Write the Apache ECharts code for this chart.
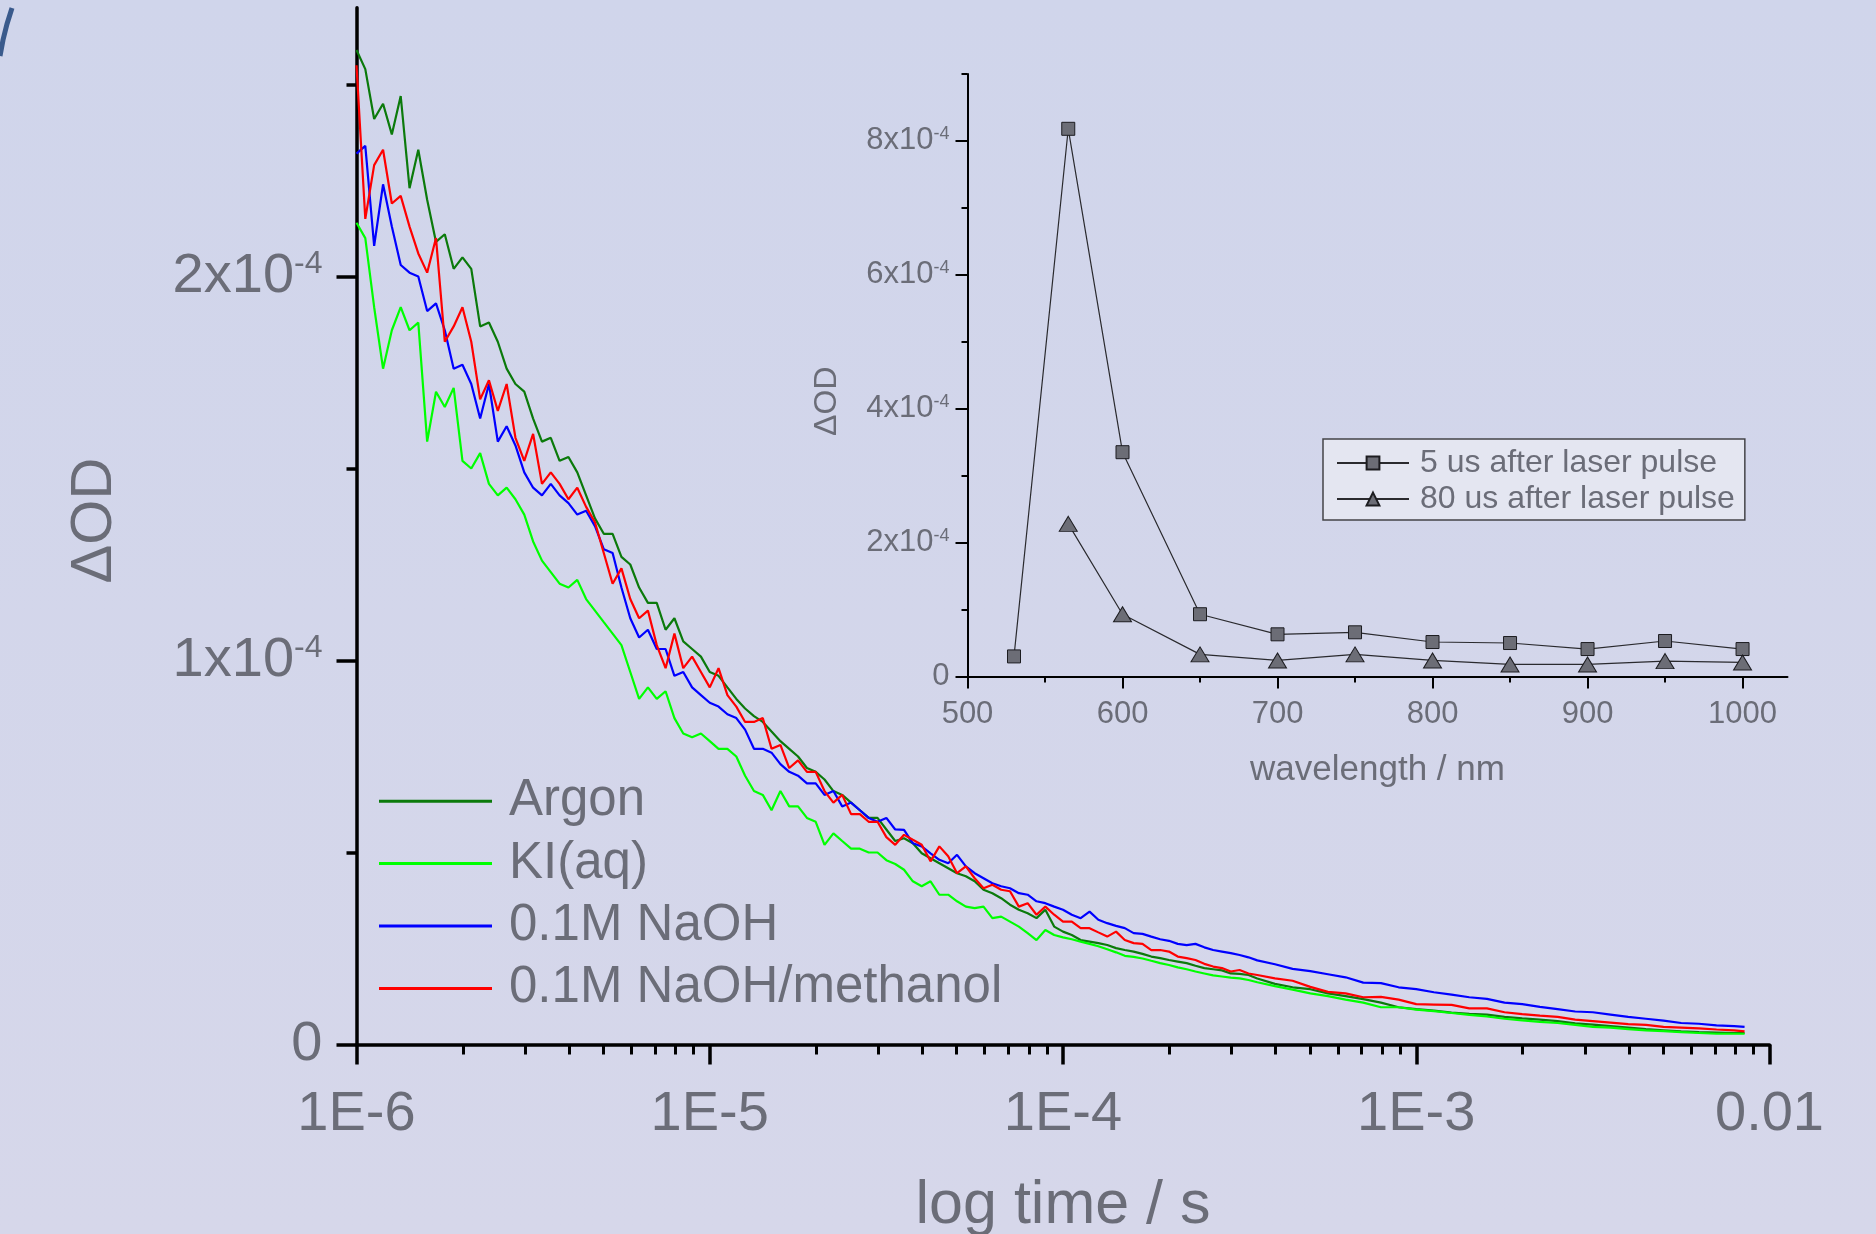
<!DOCTYPE html>
<html>
<head>
<meta charset="utf-8">
<script src="https://cdn.jsdelivr.net/npm/echarts@6/dist/echarts.min.js"></script>
<style>
  html, body { margin: 0; padding: 0; background: #d3d6ea; }
  #chart { width: 1876px; height: 1234px; }
</style>
</head>
<body>
<div id="chart"></div>
<script>
// Transient absorption decays: time (s) and ΔOD in units of 1e-4
const timeS = [
  1.000e-6, 1.059e-6, 1.122e-6, 1.189e-6, 1.259e-6, 1.334e-6, 1.413e-6, 1.496e-6, 1.585e-6, 1.679e-6,
  1.778e-6, 1.884e-6, 1.995e-6, 2.113e-6, 2.239e-6, 2.371e-6, 2.512e-6, 2.661e-6, 2.818e-6, 2.985e-6,
  3.162e-6, 3.350e-6, 3.548e-6, 3.758e-6, 3.981e-6, 4.217e-6, 4.467e-6, 4.732e-6, 5.012e-6, 5.309e-6,
  5.623e-6, 5.957e-6, 6.310e-6, 6.683e-6, 7.079e-6, 7.499e-6, 7.943e-6, 8.414e-6, 8.913e-6, 9.441e-6,
  1.000e-5, 1.059e-5, 1.122e-5, 1.189e-5, 1.259e-5, 1.334e-5, 1.413e-5, 1.496e-5, 1.585e-5, 1.679e-5,
  1.778e-5, 1.884e-5, 1.995e-5, 2.113e-5, 2.239e-5, 2.371e-5, 2.512e-5, 2.661e-5, 2.818e-5, 2.985e-5,
  3.162e-5, 3.350e-5, 3.548e-5, 3.758e-5, 3.981e-5, 4.217e-5, 4.467e-5, 4.732e-5, 5.012e-5, 5.309e-5,
  5.623e-5, 5.957e-5, 6.310e-5, 6.683e-5, 7.079e-5, 7.499e-5, 7.943e-5, 8.414e-5, 8.913e-5, 9.441e-5,
  1.000e-4, 1.059e-4, 1.122e-4, 1.189e-4, 1.259e-4, 1.334e-4, 1.413e-4, 1.496e-4, 1.585e-4, 1.679e-4,
  1.778e-4, 1.884e-4, 1.995e-4, 2.113e-4, 2.239e-4, 2.371e-4, 2.512e-4, 2.661e-4, 2.818e-4, 2.985e-4,
  3.162e-4, 3.350e-4, 3.548e-4,
  3.981e-4, 4.467e-4, 5.012e-4, 5.623e-4, 6.310e-4, 7.079e-4, 7.943e-4, 8.913e-4,
  1.000e-3, 1.122e-3, 1.259e-3, 1.413e-3, 1.585e-3, 1.778e-3, 1.995e-3, 2.239e-3, 2.512e-3, 2.818e-3,
  3.162e-3, 3.548e-3, 3.981e-3, 4.467e-3, 5.012e-3, 5.623e-3, 6.310e-3, 7.079e-3, 7.943e-3,
  8.500e-3
];

const argon = [
  2.59, 2.54, 2.41, 2.45, 2.37, 2.47, 2.23, 2.33, 2.20, 2.09,
  2.11, 2.02, 2.05, 2.02, 1.87, 1.88, 1.83, 1.76, 1.72, 1.70,
  1.63, 1.57, 1.58, 1.52, 1.53, 1.49, 1.43, 1.37, 1.33, 1.33,
  1.27, 1.25, 1.19, 1.15, 1.15, 1.08, 1.11, 1.05, 1.03, 1.01,
  0.97, 0.96, 0.93, 0.90, 0.875, 0.855, 0.84, 0.815, 0.79, 0.77,
  0.75, 0.72, 0.71, 0.69, 0.66, 0.65, 0.63, 0.61, 0.59, 0.59,
  0.56, 0.53, 0.537, 0.524, 0.498, 0.485, 0.472, 0.459, 0.446, 0.438,
  0.425, 0.403, 0.394, 0.381, 0.364, 0.351, 0.342, 0.329, 0.351, 0.307,
  0.294, 0.285, 0.272, 0.268, 0.264, 0.259, 0.251, 0.246, 0.242, 0.236,
  0.229, 0.225, 0.220, 0.216, 0.212, 0.205, 0.199, 0.196, 0.193, 0.185,
  0.184, 0.181, 0.172,
  0.158, 0.149, 0.144, 0.133, 0.126, 0.118, 0.109, 0.097,
  0.092, 0.088, 0.083, 0.080, 0.078, 0.072, 0.068, 0.065, 0.061, 0.055,
  0.052, 0.048, 0.044, 0.040, 0.037, 0.034, 0.032, 0.031, 0.030,
  0.030
];

const kiAq = [
  2.14, 2.10, 1.92, 1.76, 1.86, 1.92, 1.86, 1.88, 1.57, 1.70,
  1.66, 1.71, 1.52, 1.50, 1.54, 1.46, 1.43, 1.45, 1.42, 1.38,
  1.31, 1.26, 1.23, 1.20, 1.19, 1.21, 1.16, 1.13, 1.10, 1.07,
  1.04, 0.97, 0.90, 0.93, 0.90, 0.92, 0.85, 0.81, 0.80, 0.81,
  0.79, 0.77, 0.77, 0.75, 0.70, 0.66, 0.65, 0.61, 0.66, 0.62,
  0.62, 0.59, 0.58, 0.52, 0.55, 0.53, 0.51, 0.51, 0.50, 0.50,
  0.48, 0.47, 0.455, 0.425, 0.412, 0.425, 0.390, 0.390, 0.373, 0.359,
  0.355, 0.359, 0.329, 0.333, 0.320, 0.307, 0.290, 0.272, 0.298, 0.285,
  0.279, 0.274, 0.268, 0.262, 0.256, 0.248, 0.240, 0.231, 0.228, 0.224,
  0.218, 0.212, 0.207, 0.201, 0.196, 0.190, 0.185, 0.180, 0.177, 0.174,
  0.172, 0.168, 0.162,
  0.152, 0.143, 0.133, 0.126, 0.117, 0.109, 0.097, 0.097,
  0.091, 0.087, 0.082, 0.077, 0.073, 0.067, 0.063, 0.059, 0.056, 0.051,
  0.046, 0.044, 0.040, 0.037, 0.035, 0.032, 0.030, 0.028, 0.028,
  0.028
];

const naoh = [
  2.32, 2.34, 2.08, 2.24, 2.13, 2.03, 2.01, 2.00, 1.91, 1.93,
  1.86, 1.76, 1.77, 1.72, 1.63, 1.72, 1.57, 1.61, 1.56, 1.49,
  1.45, 1.43, 1.46, 1.43, 1.41, 1.38, 1.39, 1.35, 1.29, 1.28,
  1.19, 1.11, 1.06, 1.08, 1.03, 1.03, 0.96, 0.97, 0.93, 0.91,
  0.89, 0.88, 0.86, 0.85, 0.82, 0.77, 0.77, 0.76, 0.73, 0.71,
  0.70, 0.68, 0.68, 0.65, 0.66, 0.62, 0.63, 0.61, 0.59, 0.58,
  0.59, 0.56, 0.559, 0.524, 0.516, 0.498, 0.481, 0.472, 0.494, 0.464,
  0.446, 0.433, 0.420, 0.412, 0.407, 0.394, 0.390, 0.373, 0.368, 0.359,
  0.351, 0.338, 0.329, 0.346, 0.325, 0.316, 0.309, 0.303, 0.290, 0.288,
  0.281, 0.274, 0.270, 0.262, 0.259, 0.262, 0.253, 0.246, 0.242, 0.238,
  0.233, 0.227, 0.219,
  0.209, 0.197, 0.191, 0.183, 0.175, 0.161, 0.160, 0.149,
  0.144, 0.136, 0.130, 0.123, 0.119, 0.109, 0.105, 0.098, 0.092, 0.086,
  0.084, 0.078, 0.072, 0.067, 0.062, 0.056, 0.054, 0.050, 0.048,
  0.046
];

const naohMethanol = [
  2.55, 2.15, 2.29, 2.33, 2.19, 2.21, 2.13, 2.06, 2.01, 2.10,
  1.83, 1.87, 1.92, 1.83, 1.68, 1.73, 1.65, 1.72, 1.58, 1.52,
  1.59, 1.46, 1.49, 1.46, 1.42, 1.45, 1.40, 1.36, 1.28, 1.20,
  1.24, 1.16, 1.11, 1.13, 1.04, 0.98, 1.07, 0.98, 1.01, 0.97,
  0.93, 0.98, 0.91, 0.88, 0.84, 0.84, 0.85, 0.77, 0.78, 0.72,
  0.74, 0.71, 0.71, 0.66, 0.63, 0.65, 0.60, 0.60, 0.58, 0.58,
  0.54, 0.52, 0.546, 0.533, 0.520, 0.477, 0.516, 0.490, 0.446, 0.464,
  0.433, 0.407, 0.416, 0.403, 0.399, 0.359, 0.368, 0.338, 0.359, 0.338,
  0.320, 0.320, 0.303, 0.303, 0.292, 0.281, 0.294, 0.272, 0.264, 0.262,
  0.246, 0.246, 0.242, 0.229, 0.225, 0.220, 0.210, 0.203, 0.199, 0.190,
  0.194, 0.185, 0.181,
  0.172, 0.166, 0.150, 0.137, 0.133, 0.123, 0.124, 0.117,
  0.105, 0.104, 0.103, 0.094, 0.094, 0.084, 0.079, 0.075, 0.072, 0.065,
  0.061, 0.057, 0.053, 0.051, 0.046, 0.044, 0.042, 0.039, 0.037,
  0.034
];

const decaySeriesNames = ['Argon', 'KI(aq)', '0.1M NaOH', '0.1M NaOH/methanol'];
const decayColors = ['#0b7a0b', '#00ff00', '#0000ff', '#ff0000'];

// Time axis tick labels (one per decade)
const decadeTicks = [1e-6, 1e-5, 1e-4, 1e-3, 1e-2];
const decadeLabels = ['1E-6', '1E-5', '1E-4', '1E-3', '0.01'];
const odMajorTicks = [0, 1, 2];
const odMinorTicks = [0.5, 1.5, 2.5];

// Inset: transient spectra, ΔOD in units of 1e-4
const wavelength5us = [530, 565, 600, 650, 700, 750, 800, 850, 900, 950, 1000];
const od5us = [0.30, 8.18, 3.35, 0.93, 0.63, 0.66, 0.515, 0.50, 0.41, 0.53, 0.41];
const wavelength80us = [565, 600, 650, 700, 750, 800, 850, 900, 950, 1000];
const od80us = [2.28, 0.93, 0.33, 0.24, 0.33, 0.24, 0.18, 0.18, 0.23, 0.21];
const spectrumNames = ['5 us after laser pulse', '80 us after laser pulse'];
const wlMajorTicks = [500, 600, 700, 800, 900, 1000];
const wlMinorTicks = [550, 650, 750, 850, 950];
const insetOdMajorTicks = [0, 2, 4, 6, 8];
const insetOdMinorTicks = [1, 3, 5, 7, 9];

const FONT = '"Liberation Sans", Arial, Helvetica, sans-serif';
const GRAY = '#6b6d78';

function pairs(xs, ys) { return xs.map((x, i) => [x, ys[i]]); }

// minor ticks of the time axis sit at 2..9 within each decade (log10 positions)
const minorLogTicks = [];
for (let d = -6; d < -2; d++) {
  for (let m = 2; m <= 9; m++) minorLogTicks.push(d + Math.log10(m));
}

function powerLabel(v) {
  if (Math.abs(v) < 1e-9) return '{m|0}';
  return '{m|' + Math.round(v) + 'x10}{s|-4}';
}

const chart = echarts.init(document.getElementById('chart'), null, { renderer: 'canvas' });

const decaySeries = [argon, kiAq, naoh, naohMethanol].map((vals, i) => ({
  name: decaySeriesNames[i],
  type: 'line',
  xAxisIndex: 0,
  yAxisIndex: 0,
  data: pairs(timeS, vals),
  symbol: 'none',
  showSymbol: false,
  lineStyle: { color: decayColors[i], width: 2.2 },
  itemStyle: { color: decayColors[i] },
  z: 3 + i
}));

const spectrumSeries = [
  {
    name: spectrumNames[0], type: 'line', xAxisIndex: 2, yAxisIndex: 2,
    data: pairs(wavelength5us, od5us),
    symbol: 'rect', symbolSize: 13,
    lineStyle: { color: '#2a2a2e', width: 1.2 },
    itemStyle: { color: '#6c6d76', borderColor: '#1c1c20', borderWidth: 1 },
    z: 5
  },
  {
    name: spectrumNames[1], type: 'line', xAxisIndex: 2, yAxisIndex: 2,
    data: pairs(wavelength80us, od80us),
    symbol: 'triangle', symbolSize: [18, 15],
    lineStyle: { color: '#2a2a2e', width: 1.2 },
    itemStyle: { color: '#6c6d76', borderColor: '#1c1c20', borderWidth: 1 },
    z: 5
  }
];

const mainAxisLine = { onZero: false, lineStyle: { color: '#000', width: 3.5 } };
const insetAxisLine = { onZero: false, lineStyle: { color: '#000', width: 2 } };
const hiddenLine = { show: false, onZero: false };

const option = {
  animation: false,
  backgroundColor: {
    type: 'linear', x: 0, y: 0, x2: 0, y2: 1,
    colorStops: [{ offset: 0, color: '#d0d5eb' }, { offset: 1, color: '#d6d7ea' }]
  },
  textStyle: { fontFamily: FONT },
  grid: [
    { left: 356.5, top: 7.7, width: 1413, height: 1036.8, outerBoundsMode: 'none', containLabel: false },
    { left: 967.5, top: 73.9, width: 820, height: 602.6, outerBoundsMode: 'none', containLabel: false }
  ],
  graphic: [
    {
      type: 'polyline', silent: true, z: 0,
      shape: { points: [[0, 56], [3, 40], [7, 24], [12, 8]] },
      style: { stroke: '#3a5a8c', lineWidth: 5, fill: null }
    }
  ],
  xAxis: [
    {
      type: 'log', gridIndex: 0, position: 'bottom', logBase: 10, min: 1e-6, max: 1e-2,
      axisLine: mainAxisLine,
      axisTick: { length: 20, lineStyle: { color: '#000', width: 3.5 } },
      axisLabel: {
        margin: 42, fontSize: 56, color: GRAY, fontFamily: FONT,
        formatter: v => decadeLabels[decadeTicks.findIndex(t => Math.abs(Math.log10(t) - Math.log10(v)) < 1e-6)] || ''
      },
      splitLine: { show: false },
      name: 'log time / s', nameLocation: 'middle', nameGap: 131,
      nameTextStyle: { fontSize: 61, color: GRAY, fontFamily: FONT }
    },
    {
      type: 'value', gridIndex: 0, position: 'bottom', min: -6, max: -2,
      axisLine: hiddenLine,
      axisTick: { customValues: minorLogTicks, length: 10, lineStyle: { color: '#000', width: 3 } },
      axisLabel: { show: false },
      splitLine: { show: false }
    },
    {
      type: 'value', gridIndex: 1, position: 'bottom', min: 500, max: 1029,
      axisLine: insetAxisLine,
      axisTick: { customValues: wlMajorTicks, length: 12, lineStyle: { color: '#000', width: 2 } },
      axisLabel: {
        customValues: wlMajorTicks, margin: 22, fontSize: 31, color: GRAY, fontFamily: FONT,
        formatter: v => String(v)
      },
      splitLine: { show: false },
      name: 'wavelength / nm', nameLocation: 'middle', nameGap: 76,
      nameTextStyle: { fontSize: 35, color: GRAY, fontFamily: FONT }
    },
    {
      type: 'value', gridIndex: 1, position: 'bottom', min: 500, max: 1029,
      axisLine: hiddenLine,
      axisTick: { customValues: wlMinorTicks, length: 6, lineStyle: { color: '#000', width: 2 } },
      axisLabel: { show: false },
      splitLine: { show: false }
    }
  ],
  yAxis: [
    {
      type: 'value', gridIndex: 0, position: 'left', min: 0, max: 2.7,
      axisLine: mainAxisLine,
      axisTick: { customValues: odMajorTicks, length: 20, lineStyle: { color: '#000', width: 3.5 } },
      axisLabel: {
        customValues: odMajorTicks, margin: 34, color: GRAY, fontFamily: FONT,
        formatter: powerLabel,
        rich: {
          m: { fontSize: 56, color: GRAY, fontFamily: FONT },
          s: { fontSize: 32, color: GRAY, fontFamily: FONT, verticalAlign: 'top' }
        }
      },
      splitLine: { show: false },
      name: 'ΔOD', nameLocation: 'middle', nameGap: 233,
      nameTextStyle: { fontSize: 58, color: GRAY, fontFamily: FONT, padding: [0, 0, 0, 11] }
    },
    {
      type: 'value', gridIndex: 0, position: 'left', min: 0, max: 2.7,
      axisLine: hiddenLine,
      axisTick: { customValues: odMinorTicks, length: 10, lineStyle: { color: '#000', width: 3.5 } },
      axisLabel: { show: false },
      splitLine: { show: false }
    },
    {
      type: 'value', gridIndex: 1, position: 'left', min: 0, max: 9,
      axisLine: insetAxisLine,
      axisTick: { customValues: insetOdMajorTicks, length: 12, lineStyle: { color: '#000', width: 2 } },
      axisLabel: {
        customValues: insetOdMajorTicks, margin: 18, color: GRAY, fontFamily: FONT,
        formatter: powerLabel,
        rich: {
          m: { fontSize: 31, color: GRAY, fontFamily: FONT },
          s: { fontSize: 18, color: GRAY, fontFamily: FONT, verticalAlign: 'top' }
        }
      },
      splitLine: { show: false },
      name: 'ΔOD', nameLocation: 'middle', nameGap: 124,
      nameTextStyle: { fontSize: 32, color: GRAY, fontFamily: FONT, padding: [0, 52, 0, 0] }
    },
    {
      type: 'value', gridIndex: 1, position: 'left', min: 0, max: 9,
      axisLine: hiddenLine,
      axisTick: { customValues: insetOdMinorTicks, length: 6, lineStyle: { color: '#000', width: 2 } },
      axisLabel: { show: false },
      splitLine: { show: false }
    }
  ],
  legend: [
    {
      data: decaySeriesNames,
      orient: 'vertical', left: 379, top: 770, padding: 0,
      icon: 'rect', itemWidth: 113, itemHeight: 3, itemGap: 0,
      selectedMode: false,
      textStyle: { fontSize: 51, lineHeight: 62.4, color: GRAY, fontFamily: FONT, padding: [0, 0, 0, 12] }
    },
    {
      data: spectrumNames,
      orient: 'vertical', left: 1323, top: 439,
      padding: [6, 10, 3, 13],
      backgroundColor: '#e4e6f1', borderColor: '#444448', borderWidth: 1.5,
      itemWidth: 72, itemHeight: 16, itemGap: 0,
      selectedMode: false,
      textStyle: { fontSize: 32, lineHeight: 36, color: GRAY, fontFamily: FONT, padding: [0, 0, 0, 6] }
    }
  ],
  series: decaySeries.concat(spectrumSeries)
};

chart.setOption(option);
</script>
</body>
</html>
